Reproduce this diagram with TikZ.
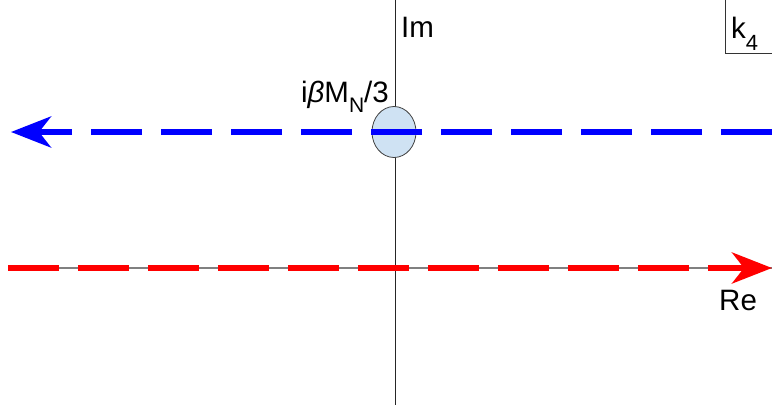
\documentclass[tikz,border=0pt]{standalone}
\usepackage{fontspec}
\setmainfont{Liberation Sans}
\usetikzlibrary{arrows.meta, positioning, shapes.geometric}
\definecolor{polefill}{RGB}{207,226,243}
\newcommand{\lowsub}[1]{\raisebox{-10pt}{\fontsize{21}{21}\selectfont #1}}

\begin{document}
\begin{tikzpicture}[x=1pt, y=-1pt,
    axis/.style={line width=1pt},
    contour/.style={line width=6pt, dash pattern=on 51pt off 19pt, -{Stealth[length=40pt, width=31pt, inset=12pt]}},
    lbl/.style={font=\fontsize{29.5}{33}\selectfont, inner sep=0pt}
  ]
    \useasboundingbox (0,0) rectangle (772,410);
    % axes
    \coordinate (imtop) at (395,0);
    \coordinate (imbot) at (395,405);
    \coordinate (releft) at (8,268);
    \coordinate (reright) at (772,268);
    \draw[axis, gray, line width=1.3pt] (releft) -- (reright);
    \draw[axis, black!85] (imtop) -- (imbot);

    % pole and contours
    \node[ellipse, draw=black!75, line width=0.8pt, fill=polefill, minimum width=44pt, minimum height=51pt, inner sep=0pt] (pole) at (394,132) {};
    \coordinate (upperR) at (772,132);
    \coordinate (upperL) at (11,132);
    \draw[contour, blue] (upperR) -- (upperL);
    \draw[contour, red] (releft) -- (reright);

    % labels
    \node[lbl, anchor=base west] (im) at (401,37) {Im};
    \node[lbl, anchor=base west] (re) at (719,310) {Re};
    \node[lbl, anchor=base east] (polelbl) at (389,102) {i\textit{β}M\lowsub{N}/3};
    \node[lbl, anchor=base west] (kname) at (731,38) {k\raisebox{-12pt}{\fontsize{22}{22}\selectfont 4}};
    \draw[black!80] (725,-2) |- (775,53);
  \end{tikzpicture}
\end{document}
